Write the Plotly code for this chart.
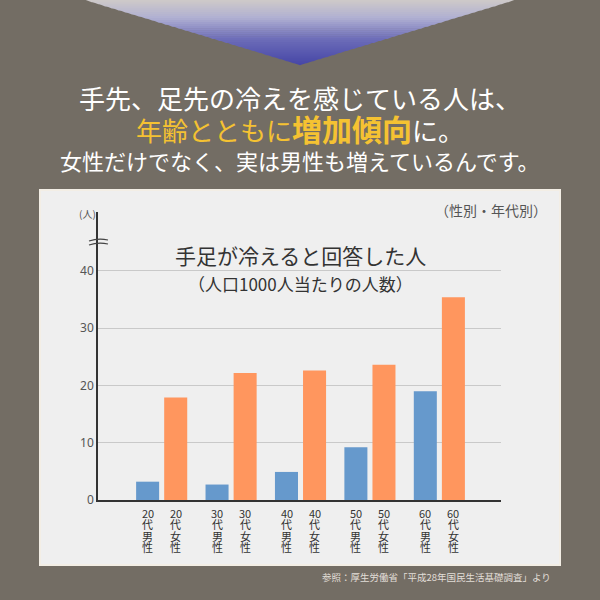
import plotly.graph_objects as go

# ---- data ----
age_groups = ["20代", "30代", "40代", "50代", "60代"]
age_numbers = ["20", "30", "40", "50", "60"]
male_values = [3.2, 2.7, 4.9, 9.2, 19.0]
female_values = [17.9, 22.2, 22.6, 23.6, 35.4]
series_names = ["男性", "女性"]
y_ticks = [0, 10, 20, 30, 40]

headline_1 = "手先、足先の冷えを感じている人は、"
headline_2a = "年齢とともに"
headline_2b = "増加傾向"
headline_2c = "に。"
headline_3 = "女性だけでなく、実は男性も増えているんです。"
chart_title = "手足が冷えると回答した人"
chart_subtitle = "（人口1000人当たりの人数）"
chart_note = "（性別・年代別）"
unit_label = "(人)"
source_text = "参照：厚生労働省「平成28年国民生活基礎調査」より"

# ---- layout geometry (pixels) ----
W, H = 600, 600
PL, PR, PT, PB = 98, 501, 212, 500
JP = "Noto Sans CJK JP"
BG = "#736d64"


def px(x):
    return (x - PL) / (PR - PL)


def py(y):
    return (PB - y) / (PB - PT)


def mix(c1, c2, t):
    a = [int(c1[i:i + 2], 16) for i in (1, 3, 5)]
    b = [int(c2[i:i + 2], 16) for i in (1, 3, 5)]
    return "#%02x%02x%02x" % tuple(round(a[k] + (b[k] - a[k]) * t) for k in range(3))


fig = go.Figure()
fig.add_trace(go.Bar(x=age_groups, y=male_values, name=series_names[0],
                     marker=dict(color="#6699cc", line=dict(width=0))))
fig.add_trace(go.Bar(x=age_groups, y=female_values, name=series_names[1],
                     marker=dict(color="#ff965e", line=dict(width=0))))

shapes = []
# light panel
shapes.append(dict(type="rect", xref="paper", yref="paper", layer="below",
                   x0=px(40), x1=px(560), y0=py(190), y1=py(565),
                   fillcolor="#efefef", line=dict(color="#f3eee5", width=2)))

# gradient triangle at top
stops = [(0, "#cfcbc8"), (18, "#b0b0d2"), (40, "#6c6cb8"), (65, "#4646a6")]
N = 32
apex_y = 65
half_top = 215
for k in range(N):
    y0 = apex_y * k / N
    y1 = apex_y * (k + 1) / N
    ym = (y0 + y1) / 2
    for s in range(len(stops) - 1):
        if stops[s][0] <= ym <= stops[s + 1][0]:
            t = (ym - stops[s][0]) / (stops[s + 1][0] - stops[s][0])
            col = mix(stops[s][1], stops[s + 1][1], t)
            break
    w0 = half_top * (1 - y0 / apex_y)
    w1 = half_top * (1 - y1 / apex_y)
    path = "M %f,%f L %f,%f L %f,%f L %f,%f Z" % (
        px(300 - w0), py(y0 - 0.3), px(300 + w0), py(y0 - 0.3),
        px(300 + w1), py(y1 + 0.3), px(300 - w1), py(y1 + 0.3))
    shapes.append(dict(type="path", xref="paper", yref="paper", layer="below",
                       path=path, fillcolor=col, line=dict(width=0)))

# axis break marks
for yb in (240, 244):
    path = "M %f,%f Q %f,%f %f,%f" % (px(89), py(yb + 1), px(98), py(yb - 2), px(108), py(yb))
    shapes.append(dict(type="path", xref="paper", yref="paper", path=path,
                       line=dict(color="#444444", width=1.2)))


def note(x, y, text, size, color, xanchor="center"):
    return dict(xref="paper", yref="paper", x=px(x), y=py(y), text=text, showarrow=False,
                xanchor=xanchor, yanchor="middle", font=dict(family=JP, size=size, color=color))


annotations = []
# headlines
annotations.append(note(300, 97, headline_1, 26, "#ffffff"))
annotations.append(note(300, 128,
                        ("<span style='color:#f5c232'>%s</span>"
                         "<span style='color:#f5c232;font-size:30px'><b>%s</b></span>"
                         "<span style='color:#ffffff'>%s</span>") % (headline_2a, headline_2b, headline_2c),
                        26, "#ffffff"))
annotations.append(note(300, 160, headline_3, 22, "#ffffff"))
# chart texts
annotations.append(note(549, 210, chart_note, 14, "#555555", "right"))
annotations.append(note(300, 255, chart_title, 21, "#333333"))
annotations.append(note(300, 283, chart_subtitle, 17, "#333333"))
annotations.append(note(87, 213, unit_label, 10, "#555555"))
annotations.append(note(553, 577, source_text, 9.5, "#e2ded8", "right"))

# vertical category labels below each bar
for i, age in enumerate(age_groups):
    for shift, sex in ((-14, series_names[0]), (14, series_names[1])):
        lines = [age_numbers[i], age[-1], sex[0], sex[1]]
        for j, ch in enumerate(lines):
            annotations.append(dict(xref="x", yref="y", x=age, y=0, text=ch, showarrow=False,
                                    xshift=shift, yshift=-(12.5 + 11.6 * j), yanchor="middle",
                                    xanchor="center",
                                    font=dict(family=JP, size=11, color="#333333")))

fig.update_layout(
    width=W, height=H,
    margin=dict(l=PL, r=W - PR, t=PT, b=H - PB, pad=0),
    paper_bgcolor=BG, plot_bgcolor="rgba(0,0,0,0)",
    barmode="group", bargap=0.191, bargroupgap=0.18,
    showlegend=False,
    shapes=shapes, annotations=annotations,
    xaxis=dict(range=[-0.917, 4.888], showticklabels=False, showgrid=False, zeroline=False,
               showline=True, linecolor="#333333", linewidth=1.5, ticks="", fixedrange=True),
    yaxis=dict(range=[0, 50.3], tickvals=y_ticks, showgrid=True, gridcolor="#c9c9c9", gridwidth=1,
               zeroline=False, showline=True, linecolor="#333333", linewidth=1.5, ticks="",
               tickfont=dict(family="Noto Sans", size=12, color="#555555"), fixedrange=True),
)

fig.write_html("out.html", config=dict(displayModeBar=False),
               post_script="document.body.style.margin='0';document.body.style.overflow='hidden';")
